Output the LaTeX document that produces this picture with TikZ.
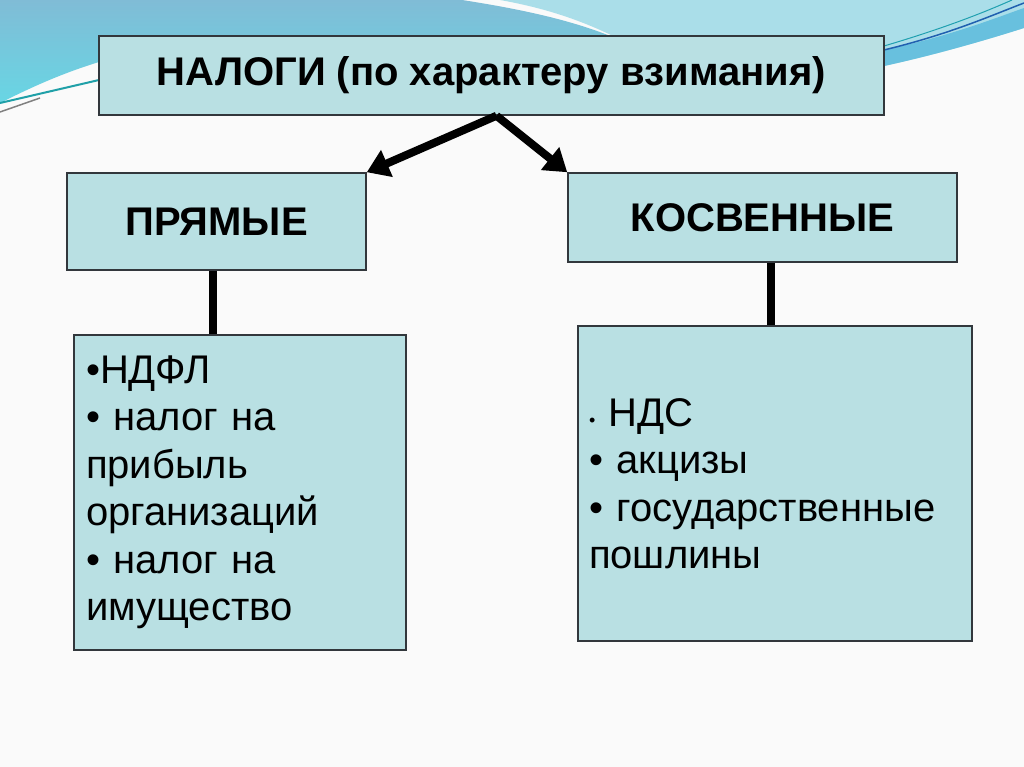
\documentclass[tikz,border=0pt]{standalone}
\usepackage{fontspec}
\setmainfont{Liberation Sans}
\usepackage{tikz}
\usetikzlibrary{arrows.meta}
\usetikzlibrary{calc, positioning}
\definecolor{boxfill}{RGB}{185,224,227}
\definecolor{boxline}{RGB}{50,55,60}
\definecolor{bandtop}{RGB}{128,188,214}
\definecolor{bandlow}{RGB}{104,214,228}
\definecolor{bandlight}{RGB}{170,222,233}
\definecolor{bandmid}{RGB}{104,192,222}
\definecolor{pagebg}{RGB}{250,250,250}
\tikzset{box/.style={draw=boxline, line width=1.5pt, fill=boxfill},
  headbox/.style={box, font=\fontsize{40}{48}\selectfont\bfseries},
  listbox/.style={box, font=\fontsize{40}{47.5}\selectfont, align=left, inner xsep=12pt, minimum height=315pt},
  link/.style={line width=8pt},
  arr/.style={line width=8pt, -{Triangle[length=22pt, width=28pt]}}}

\begin{document}
\begin{tikzpicture}[x=1pt, y=-1pt]
\useasboundingbox (0,0) rectangle (1024,767);
\fill[pagebg] (0,0) rectangle (1024,767);
\shade[top color=bandtop, bottom color=bandlow] (0,0) -- (462,0) .. controls (540,12) and (585,25) .. (620,40) -- (99,40) -- (99,62) .. controls (60,74) and (30,88) .. (0,103) -- cycle;
\fill[bandlight] (500,0) -- (1024,0) -- (1024,28) .. controls (980,42) and (930,56) .. (884,66) -- (884,36) -- (613,36) .. controls (580,20) and (545,8) .. (500,0) -- cycle;
\fill[bandmid] (884,50) .. controls (950,36) and (990,20) .. (1024,8) -- (1024,28) .. controls (980,42) and (930,56) .. (884,66) -- cycle;
\draw[color={rgb,255:red,32;green,96;blue,176}, line width=1.5pt] (884,50) .. controls (950,34) and (990,16) .. (1024,3);
\draw[color={rgb,255:red,32;green,160;blue,176}, line width=1pt] (884,46) .. controls (945,28) and (985,12) .. (1012,0);
\draw[color={rgb,255:red,32;green,160;blue,168}, line width=2pt] (0,103) -- (99,80);
\draw[gray, line width=1.5pt] (0,112) -- (40,98);

\node[headbox, minimum width=785pt, minimum height=79pt] (nalogi) at (491.5,75.5) {НАЛОГИ (по характеру взимания)};
\node[headbox, minimum width=299pt, minimum height=97pt] (prm) at (216.5,221.5) {ПРЯМЫЕ};
\node[headbox, minimum width=389pt, minimum height=89pt] (kosv) at (762.5,217.5) {КОСВЕННЫЕ};
\node[listbox, text width=308pt] (ndfl) at (240,492.5) {•НДФЛ\\• налог на\\прибыль\\организаций\\• налог на\\имущество};
\node[listbox, text width=372pt, inner xsep=11pt] (nds) at (775,483.5) {{\fontsize{18}{18}\selectfont•\ }НДС\\• акцизы\\• государственные\\пошлины};

\draw[arr] ($(nalogi.south)+(5,0)$) -- (prm.north east);
\draw[arr] ($(nalogi.south)+(5,0)$) -- (kosv.north west);
\draw[link] ($(prm.south)+(-4,0)$) -- ($(prm.south |- ndfl.north)+(-4,0)$);
\draw[link] ($(kosv.south)+(8,0)$) -- ($(kosv.south |- nds.north)+(8,0)$);
\end{tikzpicture}
\end{document}
